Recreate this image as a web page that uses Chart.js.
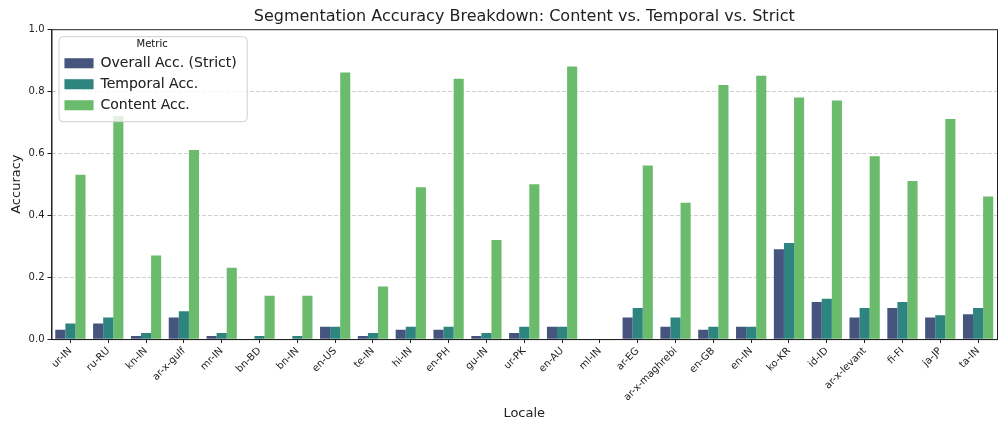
<!DOCTYPE html>
<html>
<head>
<meta charset="utf-8">
<script src="https://cdn.jsdelivr.net/npm/chart.js@4.4.1/dist/chart.umd.min.js"></script>
<style>
  html, body { margin: 0; padding: 0; background: #fff; }
</style>
</head>
<body>
<canvas id="myChart" width="1008" height="432"></canvas>
<script>
const locales = ['ur-IN', 'ru-RU', 'kn-IN', 'ar-x-gulf', 'mr-IN', 'bn-BD', 'bn-IN', 'en-US', 'te-IN', 'hi-IN',
  'en-PH', 'gu-IN', 'ur-PK', 'en-AU', 'ml-IN', 'ar-EG', 'ar-x-maghrebi', 'en-GB', 'en-IN', 'ko-KR',
  'id-ID', 'ar-x-levant', 'fi-FI', 'ja-JP', 'ta-IN'];
const overallAcc = [0.03, 0.05, 0.01, 0.07, 0.01, 0.0, 0.0, 0.04, 0.01, 0.03,
  0.03, 0.01, 0.02, 0.04, 0.0, 0.07, 0.04, 0.03, 0.04, 0.29,
  0.12, 0.07, 0.10, 0.07, 0.08];
const temporalAcc = [0.05, 0.07, 0.02, 0.09, 0.02, 0.01, 0.01, 0.04, 0.02, 0.04,
  0.04, 0.02, 0.04, 0.04, 0.0, 0.10, 0.07, 0.04, 0.04, 0.31,
  0.13, 0.10, 0.12, 0.077, 0.10];
const contentAcc = [0.53, 0.72, 0.27, 0.61, 0.23, 0.14, 0.14, 0.86, 0.17, 0.49,
  0.84, 0.32, 0.50, 0.88, 0.0, 0.56, 0.44, 0.82, 0.85, 0.78,
  0.77, 0.59, 0.51, 0.71, 0.46];
const seriesNames = ['Overall Acc. (Strict)', 'Temporal Acc.', 'Content Acc.'];
const seriesColors = ['#45557e', '#2e847f', '#6abb6c'];

const font = 'DejaVu Sans';

// legend sits inside the plot (like matplotlib's upper left), framed and drawn above bars
const framePlugin = {
  id: 'frame',
  afterLayout(chart) {
    const lg = chart.legend;
    const a = chart.chartArea;
    lg.top = a.top;
    lg.bottom = a.bottom;
    lg.left = a.left + 6;
  },
  afterDatasetsDraw(chart) {
    const ctx = chart.ctx;
    const a = chart.chartArea;
    ctx.save();
    ctx.strokeStyle = '#222';
    ctx.lineWidth = 1;
    ctx.strokeRect(a.left + 0.5, a.top + 0.5, a.right - a.left, a.bottom - a.top);

    const lg = chart.legend;
    const boxes = lg.legendHitBoxes;
    if (boxes && boxes.length) {
      let l = Infinity, r = -Infinity, b = -Infinity;
      boxes.forEach(h => {
        l = Math.min(l, h.left);
        r = Math.max(r, h.left + h.width);
        b = Math.max(b, h.top + h.height);
      });
      const x0 = l - 6, y0 = lg.top + 7, x1 = r + 10, y1 = b + 9;
      ctx.beginPath();
      ctx.roundRect(x0 + 0.5, y0 + 0.5, x1 - x0, y1 - y0, 4);
      ctx.fillStyle = 'rgba(255,255,255,0.8)';
      ctx.fill();
      ctx.strokeStyle = '#d0d0d0';
      ctx.stroke();
    }
    ctx.restore();
    lg.draw();
  }
};

const ctx = document.getElementById('myChart').getContext('2d');
const myChart = new Chart(ctx, {
  type: 'bar',
  data: {
    labels: locales,
    datasets: [overallAcc, temporalAcc, contentAcc].map((vals, i) => ({
      label: seriesNames[i],
      data: vals,
      backgroundColor: seriesColors[i],
      borderWidth: 0,
      categoryPercentage: 0.8,
      barPercentage: 1.0
    }))
  },
  options: {
    responsive: false,
    animation: false,
    maintainAspectRatio: false,
    layout: { padding: { left: 6, right: 11, top: 0, bottom: 11 } },
    scales: {
      x: {
        grid: { display: true, offset: false, drawOnChartArea: false, tickLength: 4, tickColor: '#222' },
        border: { display: true, color: '#222' },
        ticks: {
          autoSkip: false, minRotation: 45, maxRotation: 45, padding: 2,
          color: '#222', font: { family: font, size: 10 }
        },
        title: { display: true, text: 'Locale', color: '#222', font: { family: font, size: 13 }, padding: { top: 0, bottom: 0 } }
      },
      y: {
        min: 0, max: 1,
        grid: {
          color: c => (c.tick && c.tick.value > 0 && c.tick.value < 1) ? 'rgba(170,170,170,0.7)' : 'rgba(0,0,0,0)',
          lineWidth: 0.8,
          tickLength: 4, tickColor: '#222', tickBorderDash: [], tickWidth: 1
        },
        border: { display: true, color: '#222', dash: [4, 2] },
        ticks: {
          stepSize: 0.2, padding: 3, color: '#222', font: { family: font, size: 10 },
          callback: v => v.toFixed(1)
        },
        title: { display: true, text: 'Accuracy', color: '#222', font: { family: font, size: 13 }, padding: { top: 3, bottom: 1 } }
      }
    },
    plugins: {
      title: {
        display: true,
        fullSize: false,
        text: 'Segmentation Accuracy Breakdown: Content vs. Temporal vs. Strict',
        color: '#222',
        font: { family: font, size: 16, weight: 'normal' },
        padding: { top: 7.5, bottom: 2.5 }
      },
      legend: {
        position: 'chartArea',
        align: 'start',
        title: {
          display: true, text: 'Metric', color: '#222',
          font: { family: font, size: 10, lineHeight: 1 },
          padding: { top: 10, bottom: 0 }
        },
        labels: {
          color: '#222', boxWidth: 29, boxHeight: 10, padding: 7,
          font: { family: font, size: 14 }
        }
      },
      tooltip: { enabled: false }
    }
  },
  plugins: [framePlugin]
});
</script>
</body>
</html>
